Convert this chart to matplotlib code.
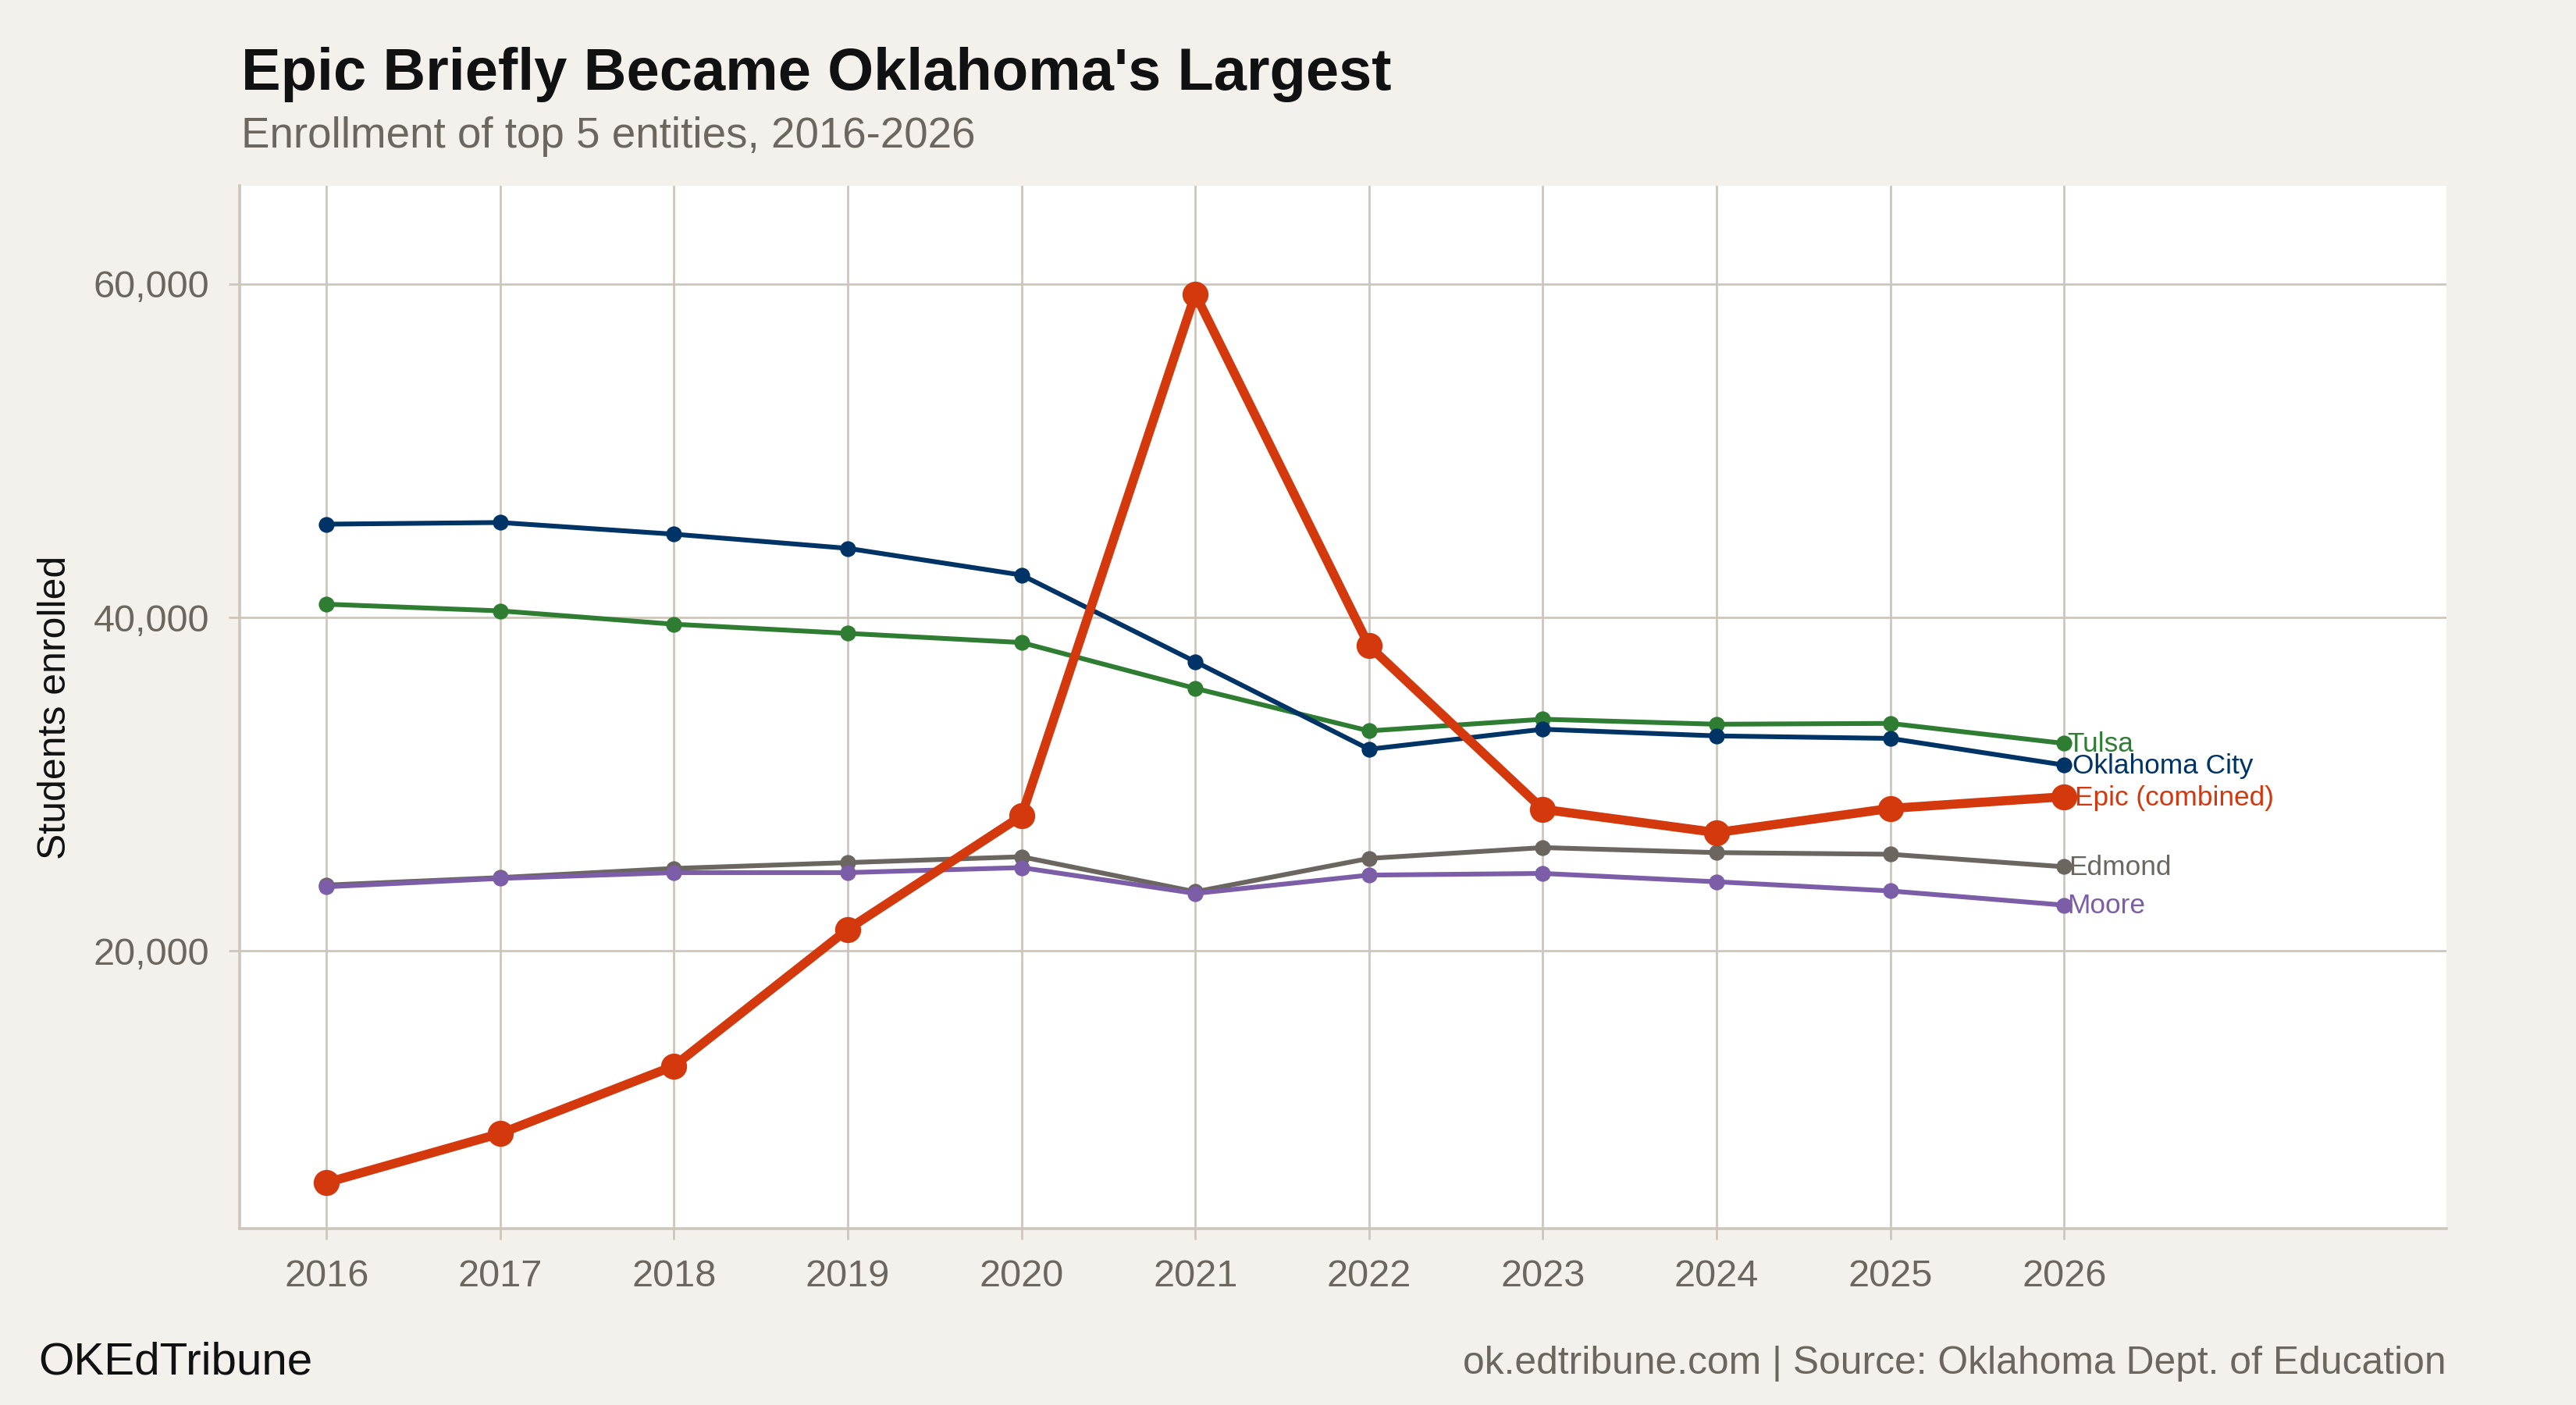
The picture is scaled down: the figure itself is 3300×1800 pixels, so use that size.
import matplotlib
matplotlib.use("Agg")
import matplotlib.pyplot as plt
from matplotlib.ticker import FuncFormatter

years = [2016, 2017, 2018, 2019, 2020, 2021, 2022, 2023, 2024, 2025, 2026]
okc = [45600, 45700, 45000, 44150, 42550, 37350, 32100, 33300, 32900, 32750, 31150]
tulsa = [40800, 40400, 39600, 39050, 38500, 35750, 33200, 33900, 33600, 33650, 32450]
epic = [6100, 9050, 13100, 21300, 28100, 59400, 38300, 28500, 27100, 28550, 29250]
edmond = [23950, 24400, 24950, 25300, 25650, 23550, 25550, 26200, 25900, 25800, 25050]
moore = [23850, 24350, 24700, 24700, 25000, 23450, 24550, 24650, 24150, 23600, 22750]

series_names = ["Tulsa", "Oklahoma City", "Epic (combined)", "Edmond", "Moore"]
series_vals = [tulsa, okc, epic, edmond, moore]
series_colors = ["#2e7d32", "#003366", "#d4380d", "#6b6660", "#7b5ea7"]

BG = "#f4f1ec"
GRID = "#cdc6bc"

plt.rcParams['font.family'] = ['Liberation Sans', 'DejaVu Sans']

fig = plt.figure(figsize=(16.5, 9), dpi=200, facecolor=BG)
ax = fig.add_axes([0.093, 0.1256, 0.8567, 0.7422])
ax.set_facecolor("white")

order = [3, 4, 0, 1, 2]
for i in order:
    name, vals, col = series_names[i], series_vals[i], series_colors[i]
    if name.startswith("Epic"):
        ax.plot(years, vals, color=col, lw=4.2, marker="o", ms=11, zorder=5,
                solid_capstyle="round")
    else:
        ax.plot(years, vals, color=col, lw=2.2, marker="o", ms=6.3, zorder=4)

label_off = {"Tulsa": 1.5, "Oklahoma City": 4, "Epic (combined)": 5, "Edmond": 2, "Moore": 1.5}
for name, vals, col in zip(series_names, series_vals, series_colors):
    ax.annotate(name, (years[-1], vals[-1]), xytext=(label_off[name], -0.5),
                textcoords="offset points", va="center", ha="left",
                color=col, fontsize=12.7, zorder=6)

ax.set_xlim(2015.5, 2028.2)
ax.set_ylim(3350, 65900)
ax.set_xticks(years)
ax.set_yticks([20000, 40000, 60000])
ax.yaxis.set_major_formatter(FuncFormatter(lambda v, p: f"{int(v):,}"))
ax.grid(True, color=GRID, lw=1.0)
ax.set_axisbelow(True)

for s in ["top", "right"]:
    ax.spines[s].set_visible(False)
for s in ["left", "bottom"]:
    ax.spines[s].set_color(GRID)
    ax.spines[s].set_linewidth(1.3)

ax.tick_params(axis="both", colors=GRID, labelcolor="#6b6660", labelsize=17.5,
               length=5, width=1.0, pad=9)
ax.set_ylabel("Students enrolled", fontsize=18, color="#111111", labelpad=9)

fig.text(0.0937, 0.936, "Epic Briefly Became Oklahoma's Largest", fontsize=27.3,
         fontweight="bold", color="#111111", ha="left", va="baseline")
fig.text(0.0937, 0.895, "Enrollment of top 5 entities, 2016-2026", fontsize=19.7,
         color="#6b6660", ha="left", va="baseline")
fig.text(0.015, 0.022, "OKEdTribune", fontsize=21, color="#111111",
         ha="left", va="baseline")
fig.text(0.9497, 0.022, "ok.edtribune.com | Source: Oklahoma Dept. of Education",
         fontsize=17.9, color="#6b6660", ha="right", va="baseline")

fig.savefig("out.png", dpi=200, facecolor=BG)
